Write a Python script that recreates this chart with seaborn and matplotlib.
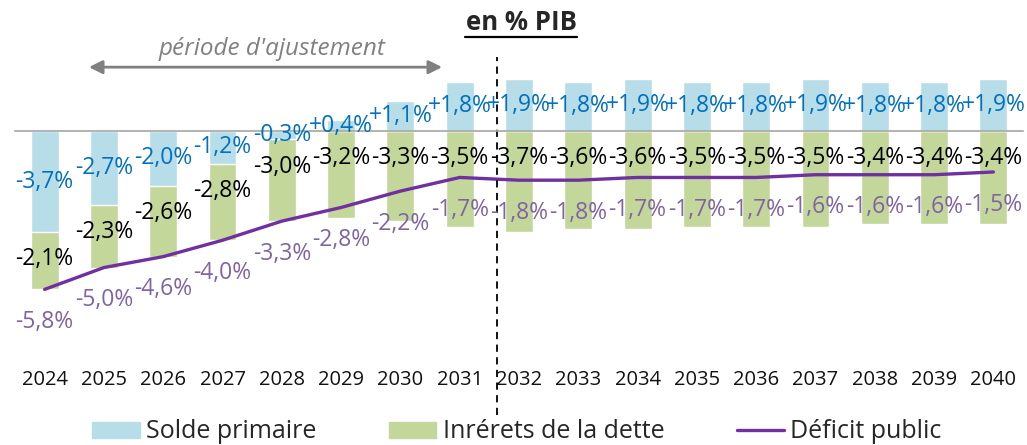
import numpy as np
import matplotlib
matplotlib.use("Agg")
import matplotlib.pyplot as plt
import seaborn as sns
from matplotlib.lines import Line2D
from matplotlib.patches import Patch

years = [str(y) for y in range(2024, 2041)]
solde_primaire = [-3.7, -2.7, -2.0, -1.2, -0.3, 0.4, 1.1, 1.8, 1.9, 1.8, 1.9, 1.8, 1.8, 1.9, 1.8, 1.8, 1.9]
interets = [-2.1, -2.3, -2.6, -2.8, -3.0, -3.2, -3.3, -3.5, -3.7, -3.6, -3.6, -3.5, -3.5, -3.5, -3.4, -3.4, -3.4]
deficit = [-5.8, -5.0, -4.6, -4.0, -3.3, -2.8, -2.2, -1.7, -1.8, -1.8, -1.7, -1.7, -1.7, -1.6, -1.6, -1.6, -1.5]

c_blue = "#b7dde8"
c_green = "#c4d79b"
c_line = "#7030a0"
c_blue_txt = "#0070c0"
c_purple_txt = "#8064a2"

sns.set_style("white")
plt.rcParams["font.family"] = ["Open Sans", "DejaVu Sans"]

fig = plt.figure(figsize=(10.27, 4.45), dpi=100)
ax = fig.add_axes([15 / 1027, 0, 1008 / 1027, 1])

x = np.arange(len(years))
s = np.array(solde_primaire)
i = np.array(interets)

# green bar drawn to the total, blue drawn on top of it
sns.barplot(x=years, y=np.minimum(s, 0) + i, color=c_green, width=0.47,
            saturation=1, errorbar=None, ax=ax)
sns.barplot(x=years, y=s, color=c_blue, width=0.47,
            saturation=1, errorbar=None, ax=ax)
sns.lineplot(x=x, y=deficit, color=c_line, linewidth=2.4, ax=ax)

# data labels
for k in range(len(years)):
    ax.text(k, s[k] / 2, f"{s[k]:+.1f}%".replace(".", ","), color=c_blue_txt,
            ha="center", va="center", fontsize=16.5)
    ax.text(k, min(s[k], 0) - 1.0, f"{i[k]:.1f}%".replace(".", ","), color="black",
            ha="center", va="center", fontsize=16.5)
    ax.text(k, deficit[k] - 1.2, f"{deficit[k]:.1f}%".replace(".", ","), color=c_purple_txt,
            ha="center", va="center", fontsize=16.5)

ax.set_xlim(-0.5, len(years) - 0.5)
ax.set_ylim(-11.5, 4.8)
ax.set_yticks([])
ax.set_xlabel("")
ax.set_ylabel("")
for sp in ["left", "right", "top"]:
    ax.spines[sp].set_visible(False)
ax.spines["bottom"].set_position(("data", 0))
ax.spines["bottom"].set_color("#a6a6a6")
ax.spines["bottom"].set_linewidth(1.2)
ax.set_xticks(x, years)
ax.set_xticks(np.arange(-0.5, len(years)), minor=True)
ax.tick_params(axis="x", which="major", length=0, pad=172, labelsize=14.5, labelcolor="#111111")
ax.tick_params(axis="x", which="minor", length=4.5, width=1.2, color="#a6a6a6", direction="out")

# separation line
ax.axvline(7.63, ymin=0.067, ymax=0.872, color="black", linestyle=(0, (4, 3)), linewidth=1.3)

# période d'ajustement
ax.annotate("", xy=(0.70, 2.34), xytext=(6.75, 2.34),
            arrowprops=dict(arrowstyle="<|-|>", color="#808080", lw=2, mutation_scale=20))
ax.text(3.83, 3.0, "période d'ajustement", style="italic", color="#808080",
        ha="center", va="center", fontsize=17.5)

# title
fig.text(521 / 1027, 1 - 23 / 445, "en % PIB", ha="center", va="center",
         fontsize=18.5, fontweight="bold")
fig.add_artist(Line2D([465 / 1027, 577 / 1027], [1 - 37 / 445] * 2, color="black", lw=1.6))

handles = [Patch(color=c_blue), Patch(color=c_green), Line2D([], [], color=c_line, lw=2.4)]
labels = ["Solde primaire", "Inrérets de la dette", "Déficit public"]
fig.legend(handles, labels, loc="center", bbox_to_anchor=(517 / 1027, 1 - 432 / 445),
           ncol=3, frameon=False, fontsize=18, handlelength=1.9, handletextpad=0.25,
           columnspacing=2.9, handleheight=0.6)

fig.savefig("out.png", dpi=100)
